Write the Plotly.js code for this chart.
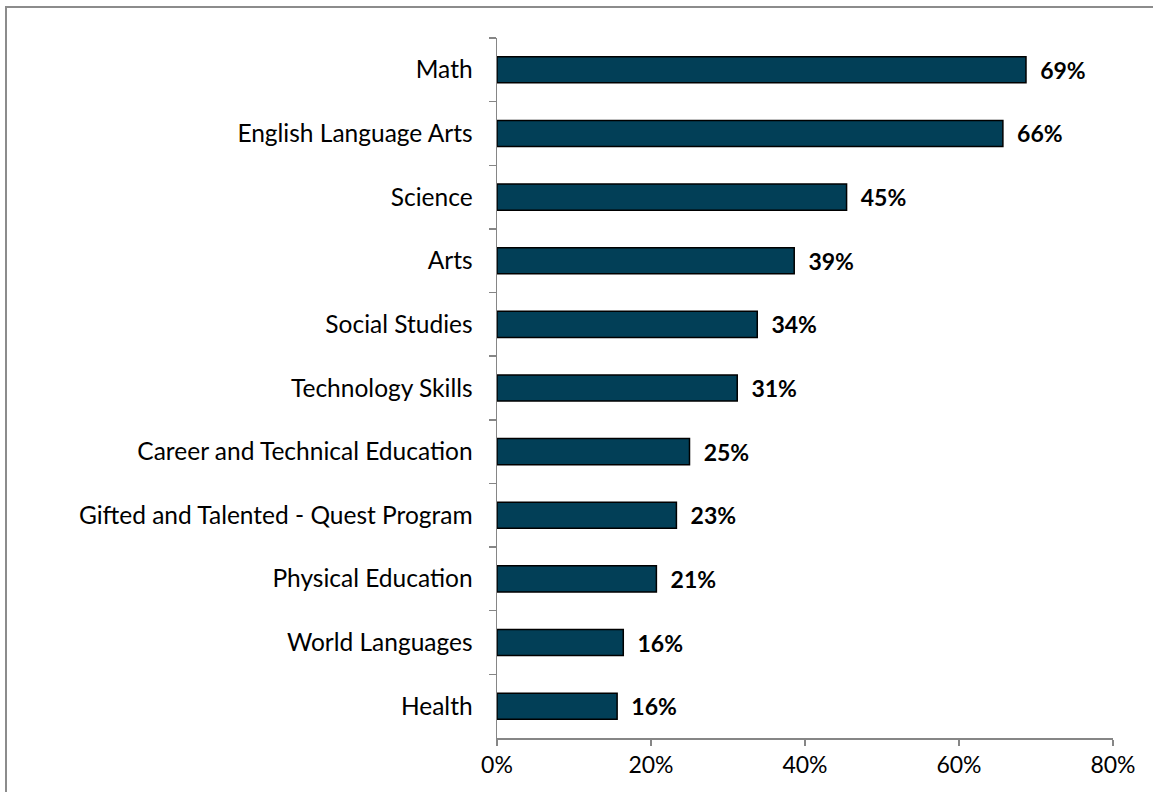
<!DOCTYPE html>
<html>
<head>
<meta charset="utf-8">
<script src="https://cdn.plot.ly/plotly-3.0.1.min.js"></script>
<style>
  html, body { margin: 0; padding: 0; overflow: hidden; background: #fff; }
  #chart { position: absolute; left: 0; top: 0; width: 1153px; height: 792px; }
  #frame { position: absolute; left: 5px; top: 6px; width: 1200px; height: 840px;
           border-top: 2px solid #8c8c8c; border-left: 2px solid #8c8c8c; pointer-events: none; }
</style>
</head>
<body>
<div id="chart"></div>
<div id="frame"></div>
<script>
const categories = [
  "Math",
  "English Language Arts",
  "Science",
  "Arts",
  "Social Studies",
  "Technology Skills",
  "Career and Technical Education",
  "Gifted and Talented - Quest Program",
  "Physical Education",
  "World Languages",
  "Health"
];
const values = [0.687, 0.657, 0.454, 0.386, 0.338, 0.312, 0.250, 0.233, 0.207, 0.164, 0.156];
const xTickVals = [0, 0.2, 0.4, 0.6, 0.8];
const xTickText = ["0%", "20%", "40%", "60%", "80%"];

const FONT = "Lato, 'Open Sans', sans-serif";

const trace = {
  type: "bar",
  orientation: "h",
  y: categories,
  x: values,
  marker: { color: "#023f57", line: { color: "#000000", width: 1.5 } },
  texttemplate: "\u00a0\u00a0%{x:.0%}",
  textposition: "outside",
  constraintext: "none",
  textfont: { family: FONT, size: 23, color: "#000000", weight: "bold" },
  cliponaxis: false,
  hoverinfo: "skip"
};

const layout = {
  width: 1153,
  height: 792,
  margin: { l: 497, r: 40, t: 38, b: 54 },
  paper_bgcolor: "#ffffff",
  plot_bgcolor: "#ffffff",
  showlegend: false,
  bargap: 0.59,
  font: { family: FONT, size: 24, color: "#000000" },
  xaxis: {
    range: [0, 0.8],
    tickvals: xTickVals,
    ticktext: xTickText,
    showgrid: false,
    zeroline: false,
    showline: true,
    linecolor: "#868686",
    linewidth: 1.5,
    ticks: "outside",
    ticklen: 6,
    tickwidth: 1.5,
    tickcolor: "#868686",
    ticklabelstandoff: 0,
    tickfont: { family: FONT, size: 23, color: "#000000" }
  },
  yaxis: {
    type: "category",
    autorange: "reversed",
    showgrid: false,
    zeroline: false,
    showline: true,
    linecolor: "#868686",
    linewidth: 1.5,
    ticks: "outside",
    tickson: "boundaries",
    ticklen: 7,
    tickwidth: 1.5,
    tickcolor: "#868686",
    ticklabelstandoff: 18,
    tickfont: { family: FONT, size: 24.5, color: "#000000" }
  }
};

Plotly.newPlot("chart", [trace], layout, { displayModeBar: false, staticPlot: true });
</script>
</body>
</html>
